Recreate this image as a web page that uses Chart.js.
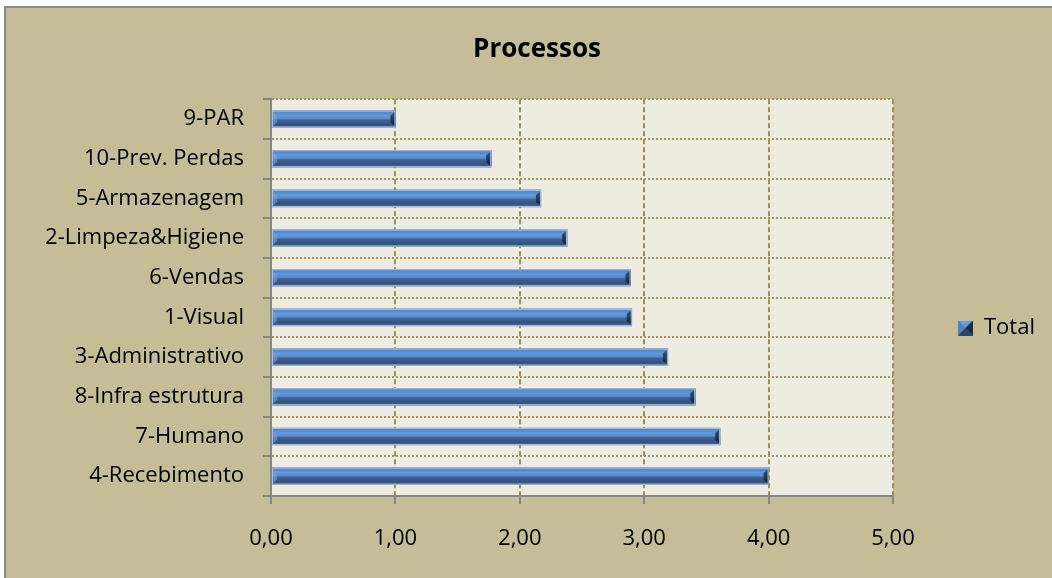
<!DOCTYPE html>
<html>
<head>
<meta charset="utf-8">
<script src="https://cdn.jsdelivr.net/npm/chart.js@4/dist/chart.umd.min.js"></script>
<style>
  html, body { margin: 0; padding: 0; background: #ffffff; overflow: hidden; width: 1052px; height: 578px; }
  #frame {
    position: absolute; left: 4px; top: 6px; width: 1100px; height: 700px;
    border-left: 2px solid #8a8a8a; border-top: 2px solid #8a8a8a;
    background: #C4BD97;
  }
  #chart { position: absolute; left: 0; top: 0; }
</style>
</head>
<body>
<div id="frame"></div>
<canvas id="chart" width="1074" height="660"></canvas>
<script>
// data
const categories = [
  "9-PAR",
  "10-Prev. Perdas",
  "5-Armazenagem",
  "2-Limpeza&Higiene",
  "6-Vendas",
  "1-Visual",
  "3-Administrativo",
  "8-Infra estrutura",
  "7-Humano",
  "4-Recebimento",
];
const totals = [1.0, 1.77, 2.17, 2.38, 2.89, 2.9, 3.19, 3.41, 3.61, 4.0];
const xTickLabels = ["0,00", "1,00", "2,00", "3,00", "4,00", "5,00"];

const FONT = "'Open Sans', 'Noto Sans', sans-serif";

// small bevelled square for the legend
function legendSwatch() {
  const c = document.createElement("canvas");
  c.width = 15;
  c.height = 15;
  const g = c.getContext("2d");
  g.fillStyle = "#4F81BD";
  g.fillRect(0, 0, 15, 15);
  g.fillStyle = "#6E9CD8";
  g.beginPath(); g.moveTo(0, 0); g.lineTo(15, 0); g.lineTo(7.5, 7.5); g.closePath(); g.fill();
  g.fillStyle = "#2C4468";
  g.beginPath(); g.moveTo(0, 15); g.lineTo(15, 15); g.lineTo(7.5, 7.5); g.closePath(); g.fill();
  g.fillStyle = "#1C2B42";
  g.beginPath(); g.moveTo(15, 0); g.lineTo(15, 15); g.lineTo(7.5, 7.5); g.closePath(); g.fill();
  return c;
}

// plot area fill
const plotBackground = {
  id: "plotBackground",
  beforeDraw(chart) {
    const a = chart.chartArea;
    const ctx = chart.ctx;
    ctx.save();
    ctx.fillStyle = "#EEECE1";
    ctx.fillRect(a.left, a.top, a.right - a.left, a.bottom - a.top);
    ctx.restore();
  },
};

// keep the legend column a fixed width so the plot ends where Excel put it
const legendWidth = {
  id: "legendWidth",
  beforeLayout(chart) {
    const lg = chart.legend;
    if (lg && !lg._fixedWidth) {
      const fit = lg.fit;
      lg.fit = function () {
        fit.call(this);
        this.width = 181;
      };
      lg._fixedWidth = true;
    }
  },
};

// bevelled look painted over the library's bar elements
const bevelBars = {
  id: "bevelBars",
  afterDatasetsDraw(chart) {
    const ctx = chart.ctx;
    chart.getDatasetMeta(0).data.forEach((bar) => {
      const p = bar.getProps(["x", "y", "base", "height"], true);
      const l = Math.min(p.base, p.x);
      const r = Math.max(p.base, p.x);
      const t = p.y - p.height / 2;
      const b = p.y + p.height / 2;
      const grad = ctx.createLinearGradient(0, t, 0, b);
      grad.addColorStop(0, "#A3BBDA");
      grad.addColorStop(0.07, "#4E85CC");
      grad.addColorStop(0.3, "#6399DD");
      grad.addColorStop(0.47, "#588BCE");
      grad.addColorStop(0.56, "#406392");
      grad.addColorStop(0.82, "#34517B");
      grad.addColorStop(0.93, "#3E6192");
      grad.addColorStop(1, "#A3B9D8");
      ctx.save();
      ctx.fillStyle = grad;
      ctx.fillRect(l, t, r - l, b - t);
      const bv = 5;
      // right cap
      const capGrad = ctx.createLinearGradient(0, t, 0, b);
      capGrad.addColorStop(0, "#3A5C8A");
      capGrad.addColorStop(1, "#0F1A2A");
      ctx.fillStyle = capGrad;
      ctx.beginPath();
      ctx.moveTo(r, t + 1);
      ctx.lineTo(r - bv, t + bv);
      ctx.lineTo(r - bv, b - bv);
      ctx.lineTo(r, b - 1);
      ctx.closePath();
      ctx.fill();
      // left cap
      ctx.fillStyle = "rgba(120,160,215,0.6)";
      ctx.beginPath();
      ctx.moveTo(l, t + 1);
      ctx.lineTo(l + bv, t + bv);
      ctx.lineTo(l + bv, b - bv);
      ctx.lineTo(l, b - 1);
      ctx.closePath();
      ctx.fill();
      ctx.strokeStyle = "#A7BCD9";
      ctx.lineWidth = 1;
      ctx.strokeRect(l + 0.5, t + 0.5, r - l - 1, b - t - 1);
      ctx.restore();
    });
  },
};

const swatch = legendSwatch();
const ctx = document.getElementById("chart").getContext("2d");
new Chart(ctx, {
  type: "bar",
  data: {
    labels: categories,
    datasets: [
      {
        label: "Total",
        data: totals,
        backgroundColor: "#4F81BD",
        barThickness: 17,
        pointStyle: swatch,
      },
    ],
  },
  options: {
    indexAxis: "y",
    responsive: false,
    animation: false,
    layout: { padding: { left: 0, right: 0, top: 0, bottom: 4 } },
    plugins: {
      title: {
        display: true,
        text: "Processos",
        color: "#000000",
        font: { family: FONT, size: 26, weight: "bold" },
        padding: { top: 34, bottom: 34 },
      },
      legend: {
        position: "right",
        labels: {
          usePointStyle: true,
          boxWidth: 15,
          boxHeight: 15,
          padding: 65,
          color: "#000000",
          font: { family: FONT, size: 22 },
        },
      },
      tooltip: { enabled: false },
    },
    scales: {
      x: {
        min: 0,
        max: 5,
        afterFit(scale) {
          scale.height = 160;
        },
        ticks: {
          stepSize: 1,
          padding: 22,
          color: "#000000",
          font: { family: FONT, size: 22 },
          callback: (value, i) => xTickLabels[i],
        },
        grid: {
          color: "#9A8F58",
          lineWidth: 2,
          tickLength: 8,
          tickColor: "#878787",
          tickWidth: 2,
          tickBorderDash: [],
        },
        border: { color: "#878787", width: 2, dash: [5, 3] },
      },
      y: {
        afterFit(scale) {
          scale.width = 271;
        },
        ticks: {
          padding: 19,
          color: "#000000",
          font: { family: FONT, size: 22 },
        },
        grid: {
          color: "#A0955F",
          lineWidth: 2,
          tickLength: 8,
          tickColor: "#878787",
          tickWidth: 2,
          tickBorderDash: [],
        },
        border: { color: "#878787", width: 2, dash: [2, 2] },
      },
    },
  },
  plugins: [plotBackground, legendWidth, bevelBars],
});
</script>
</body>
</html>
